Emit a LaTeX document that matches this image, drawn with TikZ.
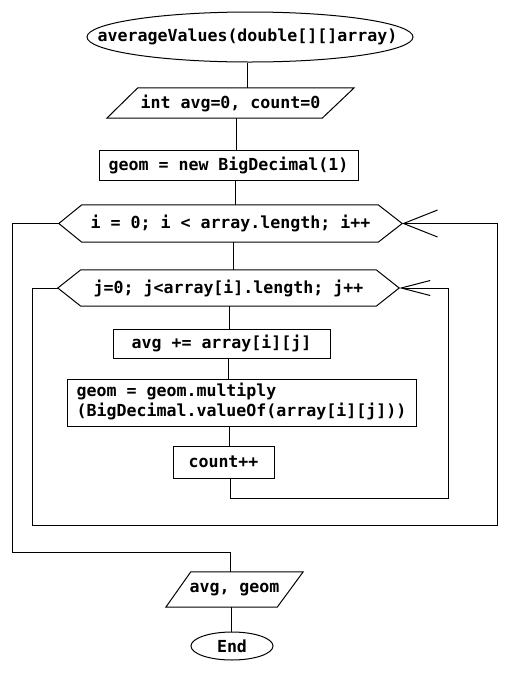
\documentclass[tikz,border=0pt]{standalone}
\usepackage{fontspec}
\newfontfamily\codefont{DejaVu Sans Mono}
\usetikzlibrary{arrows.meta,shapes.geometric}
\begin{document}
\begin{tikzpicture}[x=1pt,y=-1pt,
  every node/.style={font=\codefont\bfseries\fontsize{16.6}{19}\selectfont, inner sep=0pt},
  flow/.style={line width=1pt, line join=miter},
  box/.style={draw, line width=1pt, rectangle},
  frame/.style={rectangle, draw=none},
  term/.style={draw, line width=1pt, ellipse},
  backi/.style={flow, -{Straight Barb[length=34pt,width=27pt,line width=1pt]}},
  backj/.style={flow, -{Straight Barb[length=29pt,width=15pt,line width=1pt]}},
]
\useasboundingbox (0,0) rectangle (515,673);

% blocks
\node[term, minimum width=326, minimum height=50] (start) at (250,37)
  {\makebox[0pt]{\kern-5pt averageValues(double[][]array)}};
\node[frame, minimum width=247, minimum height=30] (init) at (230.5,103) {int avg=0, count=0};
\node[box, minimum width=259, minimum height=30] (geom0) at (228.5,165) {geom = new BigDecimal(1)};
\node[frame, minimum width=343, minimum height=37] (loopi) at (230.5,223.5) {i = 0; i < array.length; i++};
\node[frame, minimum width=341, minimum height=36] (loopj) at (228.5,288) {j=0; j<array[i].length; j++};
\node[box, minimum width=217, minimum height=29] (avg) at (221.5,343.5) {avg += array[i][j]};
\node[box, minimum width=349, minimum height=47] (geom1) at (241.5,402.5)
  {\raisebox{6pt}{\begin{tabular}{@{}l@{}}geom = geom.multiply\\(BigDecimal.valueOf(array[i][j]))\end{tabular}}};
\node[box, minimum width=101, minimum height=32] (count) at (223.5,462) {count++};
\node[frame, minimum width=137, minimum height=35] (out) at (234.5,589.5) {avg, geom};
\node[term, minimum width=82, minimum height=28] (end) at (232,646) {\makebox[0pt]{End}};

% outlines of the loop headers (hexagons) and the I/O blocks (parallelograms)
\draw[flow] (loopi.west) -- ([xshift=23]loopi.north west) -- ([xshift=-24]loopi.north east)
  -- (loopi.east) -- ([xshift=-24]loopi.south east) -- ([xshift=23]loopi.south west) -- cycle;
\draw[flow] (loopj.west) -- ([xshift=23]loopj.north west) -- ([xshift=-23]loopj.north east)
  -- (loopj.east) -- ([xshift=-23]loopj.south east) -- ([xshift=23]loopj.south west) -- cycle;
\draw[flow] (init.south west) -- ([xshift=31]init.north west) -- (init.north east)
  -- ([xshift=-32]init.south east) -- cycle;
\draw[flow] (out.south west) -- ([xshift=25]out.north west) -- (out.north east)
  -- ([xshift=-26]out.south east) -- cycle;

% straight connectors
\draw[flow] ([xshift=-3]start.south) -- ([xshift=-3]start.south |- init.north);
\draw[flow] ([xshift=5.5]init.south) -- ([xshift=5.5]init.south |- geom0.north);
\draw[flow] ([xshift=6.5]geom0.south) -- ([xshift=6.5]geom0.south |- loopi.north);
\draw[flow] ([xshift=2.5]loopi.south) -- ([xshift=2.5]loopi.south |- loopj.north);
\draw[flow] ([xshift=0.5]loopj.south) -- ([xshift=0.5]loopj.south |- avg.north);
\draw[flow] ([xshift=6.5]avg.south) -- ([xshift=6.5]avg.south |- geom1.north);
\draw[flow] ([xshift=-12.5]geom1.south) -- ([xshift=-12.5]geom1.south |- count.north);
\draw[flow] ([xshift=-3.5]out.south) -- ([xshift=-3.5]out.south |- end.north);

% inner loop back edge
\coordinate (jb) at (448,498);
\draw[backj] ([xshift=6.5]count.south) |- (jb) |- (loopj.east);

% outer loop back edge
\coordinate (ib1) at (32,525);
\coordinate (ib2) at (497,525);
\draw[backi] (loopj.west) -| (ib1) -- (ib2) |- (loopi.east);

% loop exit
\coordinate (ex) at (12,552);
\draw[flow] (loopi.west) -| (ex) -| ([xshift=-4.5]out.north);
\end{tikzpicture}
\end{document}
